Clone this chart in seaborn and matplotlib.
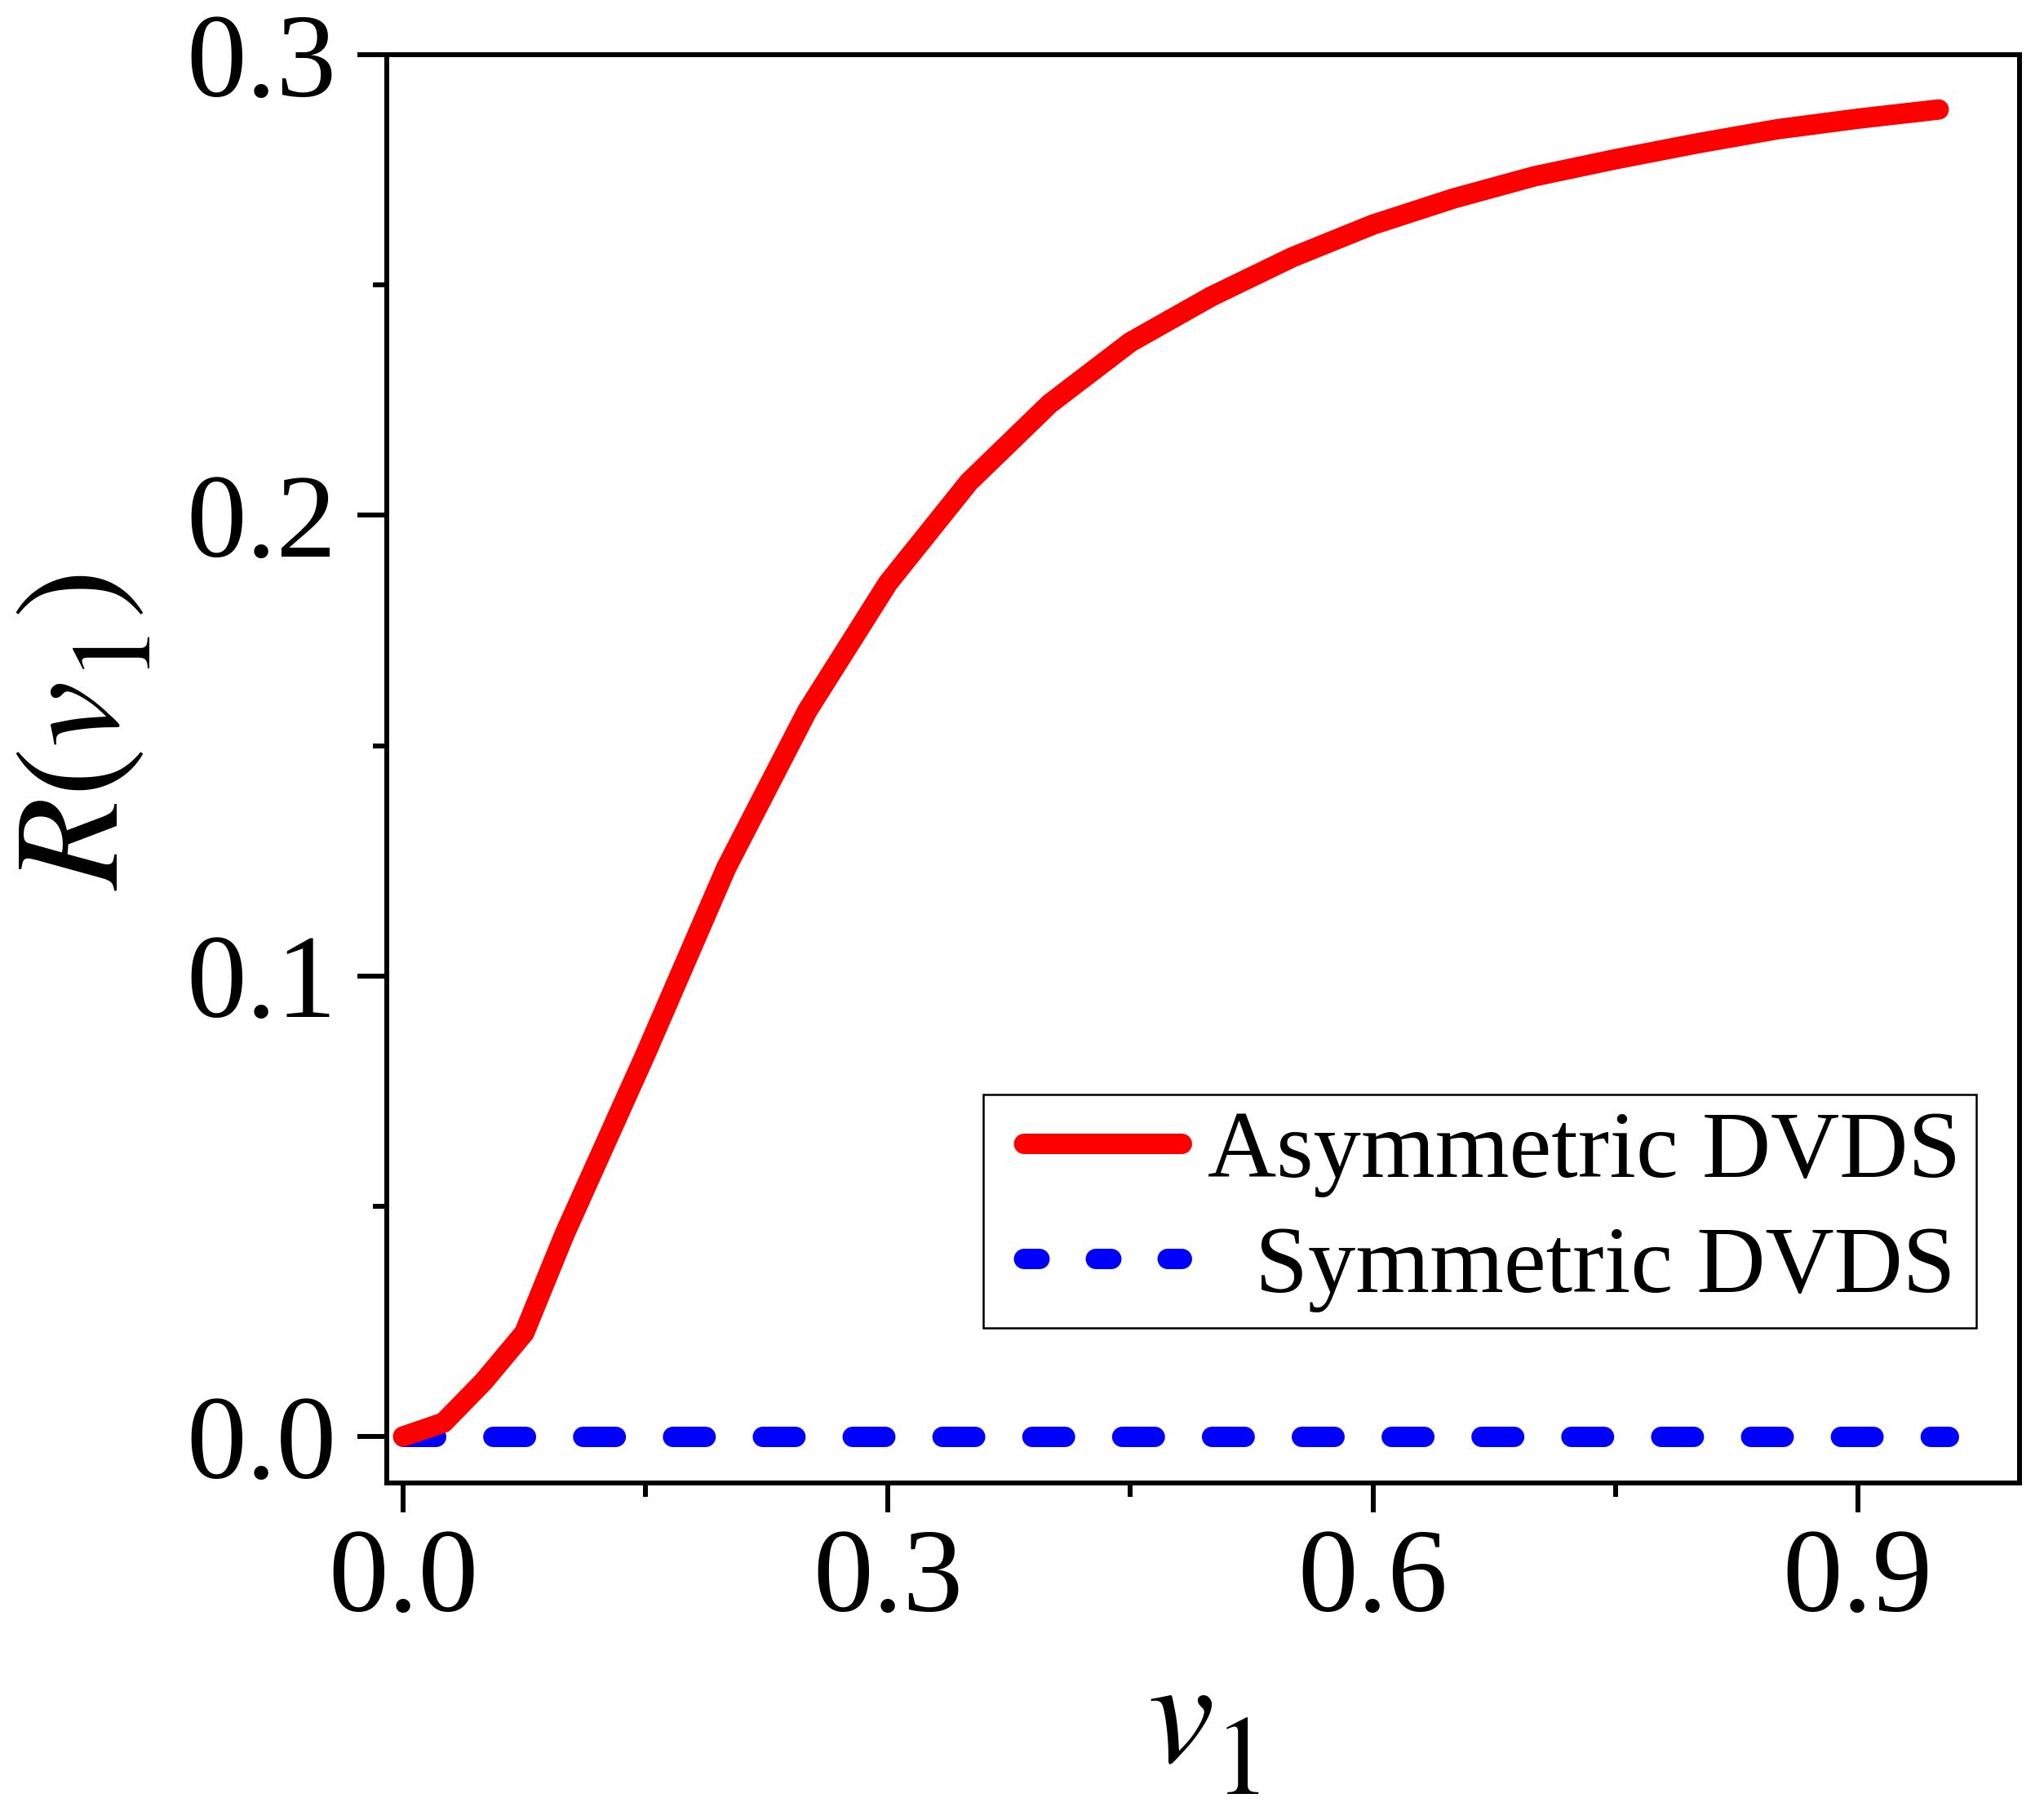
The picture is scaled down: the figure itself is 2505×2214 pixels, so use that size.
import matplotlib
matplotlib.use('Agg')
import matplotlib.pyplot as plt
import matplotlib._mathtext as mathtext_impl
import seaborn as sns
from matplotlib.lines import Line2D
from matplotlib.ticker import MultipleLocator, FormatStrFormatter

# values
v1_asym = [0.0, 0.025, 0.05, 0.075, 0.1, 0.15, 0.2, 0.25, 0.3, 0.35, 0.4,
           0.45, 0.5, 0.55, 0.6, 0.65, 0.7, 0.75, 0.8, 0.85, 0.9, 0.95]
r_asym = [0.0, 0.003, 0.012, 0.0225, 0.044, 0.083, 0.1235, 0.1575, 0.1853,
          0.2072, 0.2242, 0.2376, 0.2475, 0.256, 0.2631, 0.2688, 0.2736,
          0.2773, 0.2807, 0.2838, 0.2861, 0.2881]
v1_sym = [0.0, 0.1, 0.2, 0.3, 0.4, 0.5, 0.6, 0.7, 0.8, 0.9, 0.956]
r_sym = [0.0, 0.0, 0.0, 0.0, 0.0, 0.0, 0.0, 0.0, 0.0, 0.0, 0.0]
labels = ['Asymmetric DVDS', '  Symmetric DVDS']

sns.set_theme(style='ticks')
plt.rcParams['font.family'] = ['Liberation Serif', 'DejaVu Serif']
plt.rcParams['mathtext.fontset'] = 'stix'
for key in ['axes.edgecolor', 'text.color', 'axes.labelcolor',
            'xtick.color', 'ytick.color']:
    plt.rcParams[key] = 'black'
# the subscripts in the reference are a bit larger and sit lower than mathtext's default
mathtext_impl.SHRINK_FACTOR = 0.75
if hasattr(mathtext_impl, 'STIXFontConstants'):
    mathtext_impl.STIXFontConstants.sub1 = 0.5

W, H = 2505, 2214
fig = plt.figure(figsize=(W / 100, H / 100), dpi=100)
ax = fig.add_axes([474 / W, 1 - 1817 / H, (2475 - 474) / W, (1817 - 67) / H])

lw = 18
sns.lineplot(x=v1_sym, y=r_sym, ax=ax, color='#0000ff', linewidth=lw,
             linestyle=(0, (1.6, 2.804)), dash_capstyle='round',
             estimator=None)
sns.lineplot(x=v1_asym, y=r_asym, ax=ax, color='#ff0000', linewidth=lw,
             solid_capstyle='round', solid_joinstyle='round',
             estimator=None)

ax.set_xlim(-0.0101, 1.0)
ax.set_ylim(-0.0101, 0.3)
ax.xaxis.set_major_locator(MultipleLocator(0.3))
ax.xaxis.set_minor_locator(MultipleLocator(0.15))
ax.yaxis.set_major_locator(MultipleLocator(0.1))
ax.yaxis.set_minor_locator(MultipleLocator(0.05))
ax.xaxis.set_major_formatter(FormatStrFormatter('%.1f'))
ax.yaxis.set_major_formatter(FormatStrFormatter('%.1f'))

for sp in ax.spines.values():
    sp.set_linewidth(4.3)
    sp.set_color('black')
ax.tick_params(which='both', direction='out', width=4.3, color='black',
               top=False, right=False, labelsize=106, labelcolor='black')
ax.tick_params(which='major', length=26)
ax.tick_params(which='minor', length=12)
ax.tick_params(axis='x', which='major', pad=14)
ax.tick_params(axis='y', which='major', pad=18)

ax.set_xlabel('$v_1$', fontsize=132)
ax.set_ylabel('$R(v_1)$', fontsize=132)
ax.xaxis.set_label_coords(0.5, -0.125)
ax.yaxis.set_label_coords(-0.1434, 0.526)

# legend handles: the leading gap inside the handle box is part of the dash pattern
handles = [
    Line2D([], [], color='#ff0000', lw=lw, linestyle=(7.78, (7.78, 1.22)),
           dash_capstyle='round'),
    Line2D([], [], color='#0000ff', lw=lw, linestyle=(2.30, (0.76, 2.76)),
           dash_capstyle='round'),
]
leg = ax.legend(handles, labels, loc='lower right',
                bbox_to_anchor=(0.9735, 0.1086), borderaxespad=0,
                fontsize=84, frameon=True, fancybox=False, framealpha=1,
                edgecolor='black', handlelength=1.92, handletextpad=0.28,
                borderpad=0.16, labelspacing=0.3)
leg.get_frame().set_linewidth(1.8)

fig.savefig('out.png', dpi=100, facecolor='white')
